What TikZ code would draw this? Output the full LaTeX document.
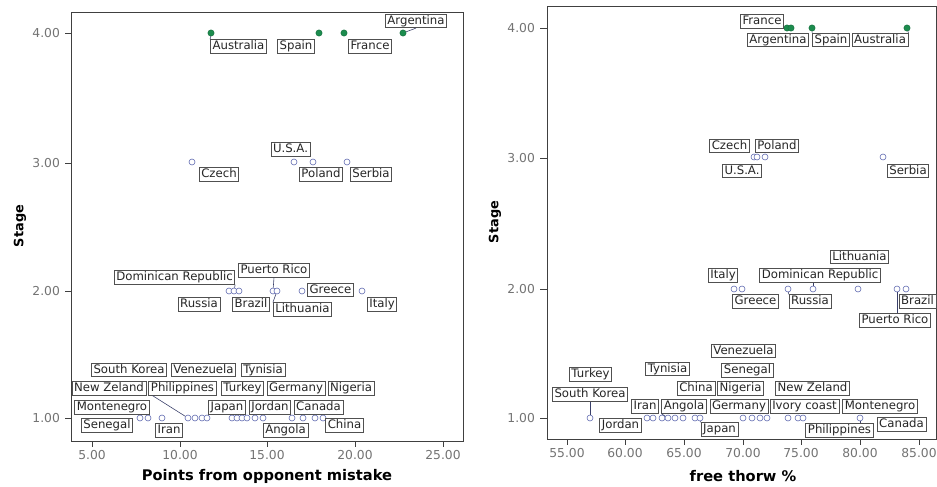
\documentclass[tikz,border=0pt]{standalone}
\usepackage{fontspec}
\setmainfont{DejaVu Sans}
\definecolor{ptblue}{RGB}{96,106,176}
\definecolor{ptgreen}{RGB}{28,140,78}
\definecolor{boxgray}{RGB}{80,80,80}
\tikzset{
  lbl/.style={draw=boxgray, fill=white, line width=0.6pt, font=\fontsize{10}{11}\selectfont, text=black!85, inner xsep=1.8pt, inner ysep=1pt, text height=7.4pt, text depth=2.1pt},
  opn/.style={circle, draw=ptblue, fill=white, line width=0.5pt, minimum size=0.18cm, inner sep=0pt},
  grn/.style={circle, draw=ptgreen!80!black, fill=ptgreen, line width=0.4pt, minimum size=0.19cm, inner sep=0pt},
  leader/.style={draw=ptblue!60!black, line width=0.5pt},
  frm/.style={draw=black!75, line width=0.8pt},
  tck/.style={draw=black!75, line width=0.6pt},
  ticklbl/.style={text=black!55, font=\fontsize{10.5}{11}\selectfont},
  axtitle/.style={font=\bfseries\fontsize{12.5}{14}\selectfont}
}
\begin{document}
\begin{tikzpicture}[x=0.03cm, y=-0.03cm]
\useasboundingbox (0,0) rectangle (937,487);
% left panel: points from opponent mistake
\draw[frm] (71,12) rectangle (463,441);
\foreach \v/\y [count=\i] in {4.00/33, 3.00/163, 2.00/291, 1.00/418} {
  \draw[tck] (65,\y) -- (71,\y);
  \node[ticklbl, anchor=east] (ly\i) at (64,\y) {\v};
}
\foreach \v/\x [count=\i] in {5.00/92, 10.00/180, 15.00/267, 20.00/355, 25.00/443} {
  \draw[tck] (\x,441) -- (\x,447);
  \node[ticklbl] (lx\i) at (\x,455) {\v};
}
\node[axtitle] (lxtitle) at (267,476) {Points from opponent mistake};
\node[axtitle, font=\bfseries\fontsize{11}{12}\selectfont, rotate=90] (lytitle) at (20,226) {Stage};
% stage 4
\node[grn] (pAus) at (211,33) {};
\node[grn] (pSpa) at (319,33) {};
\node[grn] (pFra) at (344,33) {};
\node[grn] (pArg) at (403,33) {};
% stage 3
\node[opn] (pCze) at (192,162) {};
\node[opn] (pUSA) at (294,162) {};
\node[opn] (pPol) at (313,162) {};
\node[opn] (pSer) at (347,162) {};
% stage 2
\node[opn] (pRus) at (229,291) {};
\node[opn] (pDR) at (234,291) {};
\node[opn] (pBra) at (239,291) {};
\node[opn] (pPR) at (273,291) {};
\node[opn] (pLit) at (277,291) {};
\node[opn] (pGre) at (302,291) {};
\node[opn] (pIta) at (362,291) {};
% stage 1
\foreach \x [count=\i] in {140,148,162,188,195,202,207,232,237,242,247,255,263,292,303,315,323}
  \node[opn] (lp1-\i) at (\x,418) {};
% labels
\node[lbl] (bAus) at (238.5,46.5) {Australia};
\node[lbl] (bSpa) at (296,46.5) {Spain};
\node[lbl] (bFra) at (370,46.5) {France};
\node[lbl] (bArg) at (416,21) {Argentina};
\node[lbl] (bCze) at (219,174.5) {Czech};
\node[lbl] (bUSA) at (290.5,149.5) {U.S.A.};
\node[lbl] (bPol) at (321,174.5) {Poland};
\node[lbl] (bSer) at (371,174.5) {Serbia};
\node[lbl] (bDR) at (174.5,277.5) {Dominican Republic};
\node[lbl] (bPR) at (274,270.5) {Puerto Rico};
\node[lbl] (bRus) at (199,304.5) {Russia};
\node[lbl] (bBra) at (251,304.5) {Brazil};
\node[lbl] (bLit) at (302.5,309.5) {Lithuania};
\node[lbl] (bGre) at (330.5,290) {Greece};
\node[lbl] (bIta) at (382,304.5) {Italy};
\node[lbl] (bSKo) at (129,370) {South Korea};
\node[lbl] (bVen) at (203.5,370) {Venezuela};
\node[lbl] (bTyn) at (263,370) {Tynisia};
\node[lbl] (bNZ) at (109,388.5) {New Zeland};
\node[lbl] (bPhi) at (182.5,388.5) {Philippines};
\node[lbl] (bTur) at (242.5,388.5) {Turkey};
\node[lbl] (bGer) at (296,388.5) {Germany};
\node[lbl] (bNig) at (351,388.5) {Nigeria};
\node[lbl] (bMon) at (112,407.5) {Montenegro};
\node[lbl] (bJap) at (227,407.5) {Japan};
\node[lbl] (bJor) at (270,407.5) {Jordan};
\node[lbl] (bCan) at (318.5,407.5) {Canada};
\node[lbl] (bSen) at (107,425.5) {Senegal};
\node[lbl] (bIra) at (169,430.5) {Iran};
\node[lbl] (bAng) at (285.5,430.5) {Angola};
\node[lbl] (bChi) at (344.5,425.5) {China};
% leaders
\draw[leader] (pAus) -- (bAus.north west);
\draw[leader] (pArg) -- (bArg.south);
\draw[leader] (bDR.south east) -- (pDR);
\draw[leader] (bPR.south) -- (pPR);
\draw[leader] (pLit) -- (bLit.north west);
\draw[leader] ([xshift=0.12cm]bPhi.south west) -- (lp1-4);

% right panel: free throw percentage
\draw[frm] (547,6) rectangle (936,439);
\foreach \v/\y [count=\i] in {4.00/28, 3.00/158, 2.00/289, 1.00/418} {
  \draw[tck] (540,\y) -- (547,\y);
  \node[ticklbl, anchor=east] (ry\i) at (539,\y) {\v};
}
\foreach \v/\x [count=\i] in {55.00/567, 60.00/625, 65.00/684, 70.00/743, 75.00/801, 80.00/860, 85.00/919} {
  \draw[tck] (\x,439) -- (\x,445);
  \node[ticklbl] (rx\i) at (\x,453) {\v};
}
\node[axtitle] (rxtitle) at (743,476) {free thorw \%};
\node[axtitle, font=\bfseries\fontsize{11}{12}\selectfont, rotate=90] (rytitle) at (495,222) {Stage};
% stage 4
\node[grn] (qFra) at (787,28) {};
\node[grn] (qArg) at (791,28) {};
\node[grn] (qSpa) at (812,28) {};
\node[grn] (qAus) at (907,28) {};
% stage 3
\node[opn] (qCze) at (754,157) {};
\node[opn] (qUSA) at (757,157) {};
\node[opn] (qPol) at (765,157) {};
\node[opn] (qSer) at (883,157) {};
% stage 2
\node[opn] (qIta) at (734,289) {};
\node[opn] (qGre) at (742,289) {};
\node[opn] (qRus) at (788,289) {};
\node[opn] (qDR) at (813,289) {};
\node[opn] (qLit) at (858,289) {};
\node[opn] (qPR) at (897,289) {};
\node[opn] (qBra) at (906,289) {};
% stage 1
\foreach \x [count=\i] in {590,647,653,662,668,675,683,695,700,743,752,760,767,788,798,803,860}
  \node[opn] (rp1-\i) at (\x,418) {};
% labels
\node[lbl] (cFra) at (762,21.5) {France};
\node[lbl] (cArg) at (778,40) {Argentina};
\node[lbl] (cSpa) at (831,40) {Spain};
\node[lbl] (cAus) at (880,40) {Australia};
\node[lbl] (cCze) at (729.5,146) {Czech};
\node[lbl] (cPol) at (777,146) {Poland};
\node[lbl] (cUSA) at (742,171) {U.S.A.};
\node[lbl] (cSer) at (908,171) {Serbia};
\node[lbl] (cLit) at (859.5,257) {Lithuania};
\node[lbl] (cIta) at (723,275.5) {Italy};
\node[lbl] (cDR) at (820,275.5) {Dominican Republic};
\node[lbl] (cGre) at (755.5,301.5) {Greece};
\node[lbl] (cRus) at (810,301.5) {Russia};
\node[lbl] (cBra) at (917.5,301.5) {Brazil};
\node[lbl] (cPR) at (895,320.5) {Puerto Rico};
\node[lbl] (cVen) at (743.5,351) {Venezuela};
\node[lbl] (cTyn) at (667.5,369) {Tynisia};
\node[lbl] (cTur) at (590.5,374.5) {Turkey};
\node[lbl] (cSen) at (747.5,370.5) {Senegal};
\node[lbl] (cChi) at (696,388.5) {China};
\node[lbl] (cNig) at (740.5,388.5) {Nigeria};
\node[lbl] (cNZ) at (812.5,388.5) {New Zeland};
\node[lbl] (cSKo) at (590,394.5) {South Korea};
\node[lbl] (cIra) at (645,406.5) {Iran};
\node[lbl] (cAng) at (684,406.5) {Angola};
\node[lbl] (cGer) at (739,406.5) {Germany};
\node[lbl] (cIvo) at (804.5,406.5) {Ivory coast};
\node[lbl] (cMon) at (880,406.5) {Montenegro};
\node[lbl] (cJor) at (620.5,425.5) {Jordan};
\node[lbl] (cJap) at (719.5,429.5) {Japan};
\node[lbl] (cPhi) at (839.5,430.5) {Philippines};
\node[lbl] (cCan) at (901.5,424.5) {Canada};
% leaders
\draw[leader] (cAus.north east) -- (qAus);
\draw[leader] (cSpa.north west) -- (qSpa);
\draw[leader] (qRus) -- (cRus.north west);
\draw[leader] (cDR.south -| qDR) -- (qDR);
\draw[leader] (cPR.north -| qPR) -- (qPR);
\draw[leader] (cSKo.south -| rp1-1) -- (rp1-1);
\draw[leader] (cAng.south west) -- (rp1-5);
\draw[leader] (cJap.north west) -- (rp1-9);
\draw[leader] (cPhi.north -| rp1-17) -- (rp1-17);
\end{tikzpicture}
\end{document}
